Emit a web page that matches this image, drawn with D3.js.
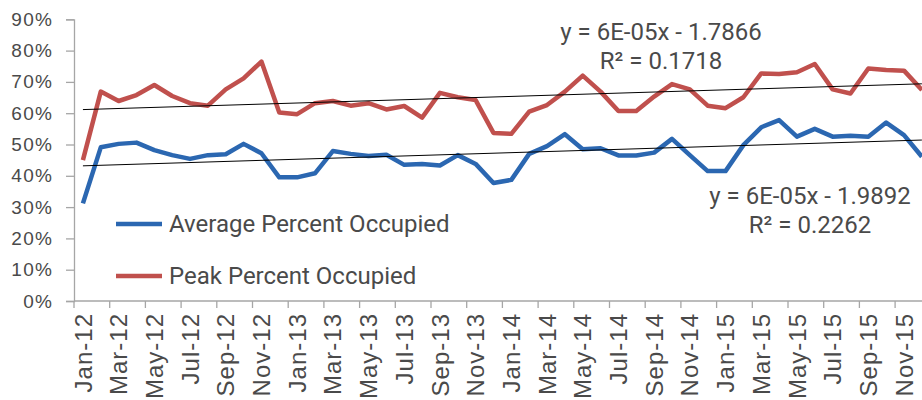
<!DOCTYPE html>
<html>
<head>
<meta charset="utf-8">
<script src="https://cdn.jsdelivr.net/npm/d3@7/dist/d3.min.js"></script>
<style>
  html, body { margin: 0; padding: 0; background: #fff; }
  svg { display: block; }
</style>
</head>
<body>
<svg id="chart" width="922" height="400"></svg>
<script>
// Monthly occupancy, Jan 2012 – Dec 2015
const months = [
  "Jan-12","Feb-12","Mar-12","Apr-12","May-12","Jun-12","Jul-12","Aug-12","Sep-12","Oct-12","Nov-12","Dec-12",
  "Jan-13","Feb-13","Mar-13","Apr-13","May-13","Jun-13","Jul-13","Aug-13","Sep-13","Oct-13","Nov-13","Dec-13",
  "Jan-14","Feb-14","Mar-14","Apr-14","May-14","Jun-14","Jul-14","Aug-14","Sep-14","Oct-14","Nov-14","Dec-14",
  "Jan-15","Feb-15","Mar-15","Apr-15","May-15","Jun-15","Jul-15","Aug-15","Sep-15","Oct-15","Nov-15","Dec-15"
];

const averageOccupied = [
  0.312,0.491,0.502,0.506,0.482,0.466,0.454,0.466,0.469,0.502,0.472,0.395,
  0.395,0.408,0.479,0.470,0.463,0.467,0.435,0.438,0.433,0.466,0.438,0.377,
  0.387,0.470,0.495,0.533,0.485,0.488,0.465,0.465,0.474,0.518,0.466,0.415,
  0.415,0.498,0.555,0.578,0.525,0.550,0.525,0.528,0.525,0.570,0.530,0.461
];

const peakOccupied = [
  0.450,0.669,0.639,0.658,0.690,0.655,0.632,0.624,0.676,0.711,0.765,0.602,
  0.597,0.632,0.639,0.624,0.632,0.612,0.623,0.586,0.665,0.651,0.642,0.537,
  0.534,0.605,0.626,0.669,0.720,0.669,0.607,0.607,0.653,0.693,0.676,0.624,
  0.616,0.651,0.727,0.725,0.731,0.757,0.676,0.663,0.743,0.738,0.736,0.674
];

const yTicks = [0, 0.1, 0.2, 0.3, 0.4, 0.5, 0.6, 0.7, 0.8, 0.9];
const xTickLabels = months.filter((m, i) => i % 2 === 0);

const seriesNames = ["Average Percent Occupied", "Peak Percent Occupied"];
const trendLabels = [
  ["y = 6E-05x - 1.9892", "R² = 0.2262"],
  ["y = 6E-05x - 1.7866", "R² = 0.1718"]
];

const colors = { avg: "#2b67b1", peak: "#c0504d", axis: "#a6a6a6", text: "#4a4a4a" };

const svg = d3.select("#chart");
const plotLeft = 74, plotTop = 19.3, plotBottom = 301;
const step = 17.85;

const x = d3.scaleBand().domain(months).range([plotLeft, plotLeft + months.length * step]).padding(0);
const y = d3.scaleLinear().domain([0, 0.9]).range([plotBottom, plotTop]);
const cx = m => x(m) + x.bandwidth() / 2;

// Axes
const yAxis = d3.axisLeft(y).tickValues(yTicks).tickFormat(d3.format(".0%")).tickSize(8).tickPadding(13);
const gy = svg.append("g").attr("transform", `translate(${plotLeft},0)`).call(yAxis);
gy.select(".domain").attr("stroke", colors.axis).attr("stroke-width", 1.3);
gy.selectAll(".tick line").attr("stroke", colors.axis).attr("stroke-width", 1.3);
gy.selectAll(".tick text")
  .attr("fill", colors.text)
  .style("font-family", "'Liberation Sans', Arial, sans-serif")
  .style("font-size", "19px")
  .style("letter-spacing", "1.2px");

// x axis: ticks at category boundaries, every second month
const gx = svg.append("g");
gx.append("line")
  .attr("x1", plotLeft).attr("x2", 922).attr("y1", plotBottom).attr("y2", plotBottom)
  .attr("stroke", colors.axis).attr("stroke-width", 1.3);
gx.selectAll("line.tick")
  .data(xTickLabels)
  .join("line")
  .attr("class", "tick")
  .attr("x1", d => x(d)).attr("x2", d => x(d))
  .attr("y1", plotBottom).attr("y2", plotBottom + 7)
  .attr("stroke", colors.axis).attr("stroke-width", 1.3);
gx.selectAll("text")
  .data(xTickLabels)
  .join("text")
  .attr("transform", d => `translate(${cx(d)},${plotBottom + 12}) rotate(-90)`)
  .attr("text-anchor", "end")
  .attr("dy", "0.36em")
  .attr("fill", colors.text)
  .style("font-family", "'Liberation Sans', Arial, sans-serif")
  .style("font-size", "24px")
  .style("letter-spacing", "1px")
  .text(d => d);

// Least-squares trend over the month index
function trend(values) {
  const n = values.length;
  const xs = d3.range(n);
  const mx = d3.mean(xs), my = d3.mean(values);
  let sxy = 0, sxx = 0;
  xs.forEach((xi, i) => { sxy += (xi - mx) * (values[i] - my); sxx += (xi - mx) ** 2; });
  const b = sxy / sxx, a = my - b * mx;
  return [[months[0], a], [months[n - 1], a + b * (n - 1)]];
}

const line = d3.line().x(d => cx(d[0])).y(d => y(d[1]));

const plot = svg.append("g");
[[averageOccupied, colors.avg], [peakOccupied, colors.peak]].forEach(([vals, col]) => {
  plot.append("path")
    .datum(months.map((m, i) => [m, vals[i]]))
    .attr("d", line)
    .attr("fill", "none")
    .attr("stroke", col)
    .attr("stroke-width", 4.5)
    .attr("stroke-linejoin", "round");
});
[averageOccupied, peakOccupied].forEach(vals => {
  plot.append("path")
    .datum(trend(vals))
    .attr("d", line)
    .attr("fill", "none")
    .attr("stroke", "#000")
    .attr("stroke-width", 1);
});

// Trendline equations
const eqFont = "Roboto, 'Noto Sans', sans-serif";
const eqPos = [[810, 204], [661, 40]];
trendLabels.forEach((lines, k) => {
  const t = svg.append("text")
    .attr("text-anchor", "middle")
    .attr("fill", colors.text)
    .style("font-family", eqFont)
    .style("font-size", "24px");
  lines.forEach((s, j) => {
    t.append("tspan").attr("x", eqPos[k][0]).attr("y", eqPos[k][1] + j * 29).text(s);
  });
});

// Legend
const legend = svg.append("g");
[[colors.avg, 224], [colors.peak, 276]].forEach(([col, ly], i) => {
  legend.append("line")
    .attr("x1", 116).attr("x2", 162).attr("y1", ly).attr("y2", ly)
    .attr("stroke", col).attr("stroke-width", 4.5);
  legend.append("text")
    .attr("x", 169).attr("y", ly + 8)
    .attr("fill", colors.text)
    .style("font-family", eqFont)
    .style("font-size", "24px")
    .text(seriesNames[i]);
});
</script>
</body>
</html>
